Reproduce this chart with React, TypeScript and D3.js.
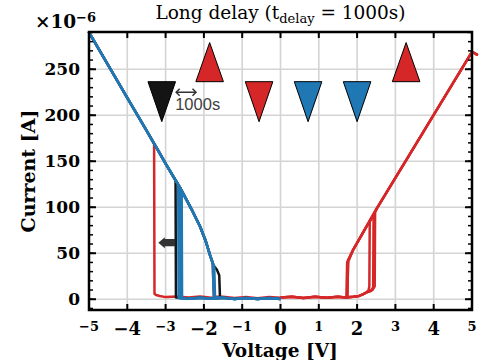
import React from "react";
import * as d3 from "d3";

type Pt = [number, number];

// current values are in units of 1e-6 A
const xTicks = [-5, -4, -3, -2, -1, 0, 1, 2, 3, 4, 5];
const yTicks = [0, 50, 100, 150, 200, 250];

// low-current (off) baselines
const redBaseNeg: Pt[] = [[0, 1.6], [-0.3, 2.4], [-0.6, 1.2], [-0.9, 2.5], [-1.2, 1.4], [-1.5, 2.6], [-1.8, 1.5], [-2.1, 2.9], [-2.4, 1.8], [-2.7, 3.1], [-3.0, 2.3], [-3.15, 3.6], [-3.25, 4.6]];
const redBasePos: Pt[] = [[0, 1.8], [0.3, 2.7], [0.6, 1.4], [0.9, 2.6], [1.2, 1.5], [1.5, 2.8], [1.7, 1.8], [1.9, 2.7], [2.05, 3.6], [2.15, 5.2], [2.25, 7.6]];
const blueBase: Pt[] = [[0, 0.3], [-0.3, 1.3], [-0.6, 0.2], [-0.9, 1.4], [-1.2, 0.3], [-1.5, 1.5], [-1.8, 0.4], [-2.1, 1.5], [-2.4, 0.4], [-2.55, 1.2]];

// high-current (on) branches
const negHigh: Pt[] = [[-1.84, 48], [-1.95, 63], [-2.1, 79], [-2.3, 96], [-2.62, 121], [-3, 147.5], [-3.2, 162], [-3.5, 183.5], [-4, 219], [-4.5, 254.5], [-5, 290]];
const posHigh: Pt[] = [[1.9, 54], [2.52, 99], [3, 132], [3.39, 158.6], [4, 200.4], [4.5, 234.7], [5, 269], [5.13, 266]];

// switching steps of every sweep
const redSets: Pt[][] = [
  [[-3.29, 6], [-3.3, 168.6]],
  [[2.3, 10], [2.32, 14], [2.33, 84]],
  [[2.36, 9], [2.42, 13], [2.43, 92]],
  [[2.4, 10], [2.46, 14], [2.47, 95]],
];
const redResets: Pt[][] = [
  [[-1.77, 39], [-1.74, 3]],
  [[1.77, 41], [1.74, 3]],
  [[1.76, 42], [1.75, 3]],
  [[1.74, 40], [1.72, 3]],
];
const blackSet: Pt[] = [[-2.73, 2], [-2.74, 129]];
const blackReset: Pt[] = [[-1.75, 37], [-1.66, 32], [-1.6, 26], [-1.58, 2]];
const blueSets: Pt[][] = [
  [[-2.66, 1], [-2.67, 124.5]],
  [[-2.61, 1], [-2.62, 121]],
  [[-2.57, 1], [-2.58, 118]],
];
const blueResets: Pt[][] = [
  [[-1.75, 37], [-1.72, 2]],
  [[-1.77, 39], [-1.74, 2]],
  [[-1.73, 35], [-1.71, 2]],
];

// pulse markers above the curves
const markerV = [-3.1, -1.85, -0.56, 0.72, 2.0, 3.28];
const markerDir = ["down", "up", "down", "down", "down", "up"];
const markerSeries = ["black", "red", "red", "blue", "blue", "red"];

const colors: Record<string, string> = { red: "#d62728", blue: "#1f77b4", black: "#141414" };

function sweep(base: Pt[], high: Pt[], set: Pt[], reset: Pt[]): Pt[] {
  const a = (p: Pt) => Math.abs(p[0]);
  const out: Pt[] = base.filter(p => a(p) < a(set[0]));
  out.push(...set);
  out.push(...high.filter(p => a(p) > a(set[set.length - 1])));
  out.push(...high.filter(p => a(p) > a(reset[0])).reverse());
  out.push(...reset);
  out.push(...base.filter(p => a(p) < a(reset[reset.length - 1])).reverse());
  return out;
}

export default function App() {
  const x = d3.scaleLinear().domain([-5, 5]).range([89, 472]);
  const y = d3.scaleLinear().domain([-11.7, 290.5]).range([310, 32]);
  const line = d3.line<Pt>().x(d => x(d[0])).y(d => y(d[1]));
  const serif = "'DejaVu Serif', serif";

  const redCurves = redSets.map((s, i) =>
    sweep(s[0][0] < 0 ? redBaseNeg : redBasePos, s[0][0] < 0 ? negHigh : posHigh, s, redResets[i]));
  const blackCurve = sweep(blueBase, negHigh, blackSet, blackReset);
  const blueCurves = blueSets.map((s, i) => sweep(blueBase, negHigh, s, blueResets[i]));

  const minor = d3.range(-10, 291, 10);
  const [x0, x1] = x.range();
  const [yb, yt] = y.range();
  const ay = y(225);
  const ax0 = x(-2.75), ax1 = x(-2.18);
  const bay = y(61.5);

  return (
    <svg width={490} height={360} style={{ position: "absolute", left: 0, top: 0, background: "#fff" }}>
      {/* grid */}
      <g stroke="#d4d4d4" strokeWidth={1.6}>
        {xTicks.slice(1, -1).map(t => <line key={"gx" + t} x1={x(t)} x2={x(t)} y1={yt} y2={yb} />)}
        {yTicks.map(t => <line key={"gy" + t} x1={x0} x2={x1} y1={y(t)} y2={y(t)} />)}
      </g>

      {/* curves */}
      <g fill="none" strokeWidth={2.5} strokeLinejoin="round">
        {redCurves.map((c, i) => <path key={"r" + i} d={line(c) || ""} stroke={colors.red} />)}
        <path d={line(blackCurve) || ""} stroke={colors.black} />
        {blueCurves.map((c, i) => <path key={"b" + i} d={line(c) || ""} stroke={colors.blue} />)}
      </g>

      {/* ticks */}
      <g stroke="#000" strokeWidth={1.5}>
        {minor.map(t => (
          <g key={"m" + t}>
            <line x1={x0} x2={x0 + 4} y1={y(t)} y2={y(t)} />
            <line x1={x1} x2={x1 - 4} y1={y(t)} y2={y(t)} />
          </g>
        ))}
        {yTicks.map(t => (
          <g key={"yt" + t} strokeWidth={2}>
            <line x1={x0} x2={x0 + 7} y1={y(t)} y2={y(t)} />
            <line x1={x1} x2={x1 - 7} y1={y(t)} y2={y(t)} />
          </g>
        ))}
        {xTicks.map(t => (
          <g key={"xt" + t} strokeWidth={2}>
            <line x1={x(t)} x2={x(t)} y1={yb} y2={yb - 6} />
            <line x1={x(t)} x2={x(t)} y1={yt} y2={yt + 6} />
          </g>
        ))}
      </g>
      <rect x={x0} y={yt} width={x1 - x0} height={yb - yt} fill="none" stroke="#000" strokeWidth={2.5} />

      {/* tick labels */}
      <g fontFamily={serif} fontWeight="bold" fill="#000">
        {yTicks.map(t => (
          <text key={"yl" + t} x={80} y={y(t) + 6.2} fontSize={17} textAnchor="end">{t}</text>
        ))}
        {xTicks.map(t => {
          const big = Math.abs(t) % 2 === 0;
          return (
            <text key={"xl" + t} x={x(t)} y={big ? 334.5 : 331} fontSize={big ? 18 : 13} textAnchor="middle">
              {t < 0 ? "\u2212" + Math.abs(t) : String(t)}
            </text>
          );
        })}
        <text x={35} y={28.3} fontSize={18.5}>×10</text>
        <text x={76} y={21.5} fontSize={13}>{"\u22126"}</text>
      </g>

      {/* axis labels and title */}
      <text x={280} y={356.5} fontFamily={serif} fontWeight="bold" fontSize={18.5} textAnchor="middle">Voltage [V]</text>
      <text transform="translate(28,171) rotate(-90)" fontFamily={serif} fontWeight="bold" fontSize={19}
        textAnchor="middle" dominantBaseline="central">Current [A]</text>
      <text x={280.5} y={18.5} fontFamily={serif} fontSize={18.5} textAnchor="middle">
        Long delay (t<tspan fontSize={13} dy={4}>delay</tspan><tspan dy={-4}> = 1000s)</tspan>
      </text>

      {/* pulse markers */}
      <g stroke="#000" strokeWidth={1}>
        {markerV.map((v, i) => {
          const hw = x(v + 0.36) - x(v);
          const cx = x(v);
          const pts = markerDir[i] === "up"
            ? [[cx, y(279)], [cx - hw, y(236.5)], [cx + hw, y(236.5)]]
            : [[cx - hw, y(236.5)], [cx + hw, y(236.5)], [cx, y(193)]];
          return <polygon key={"mk" + i} points={pts.map(p => p.join(",")).join(" ")} fill={colors[markerSeries[i]]} />;
        })}
      </g>

      {/* delay annotation */}
      <g stroke="#333" strokeWidth={1.5} fill="none">
        <line x1={ax0 + 1} x2={ax1 - 1} y1={ay} y2={ay} />
        <polyline points={`${ax0 + 4.5},${ay - 3.5} ${ax0 + 1},${ay} ${ax0 + 4.5},${ay + 3.5}`} />
        <polyline points={`${ax1 - 4.5},${ay - 3.5} ${ax1 - 1},${ay} ${ax1 - 4.5},${ay + 3.5}`} />
      </g>
      <text x={x(-2.75)} y={110} fontFamily="'Liberation Sans', Arial, sans-serif" fontSize={16.5} fill="#404040">1000s</text>

      {/* shift arrow */}
      <path
        d={`M${x(-3.19)},${bay} L${x(-3.02)},${bay - 5.5} L${x(-3.02)},${bay - 3.7} L${x(-2.75)},${bay - 3.7} L${x(-2.75)},${bay + 3.7} L${x(-3.02)},${bay + 3.7} L${x(-3.02)},${bay + 5.5} Z`}
        fill="#333" />
    </svg>
  );
}
